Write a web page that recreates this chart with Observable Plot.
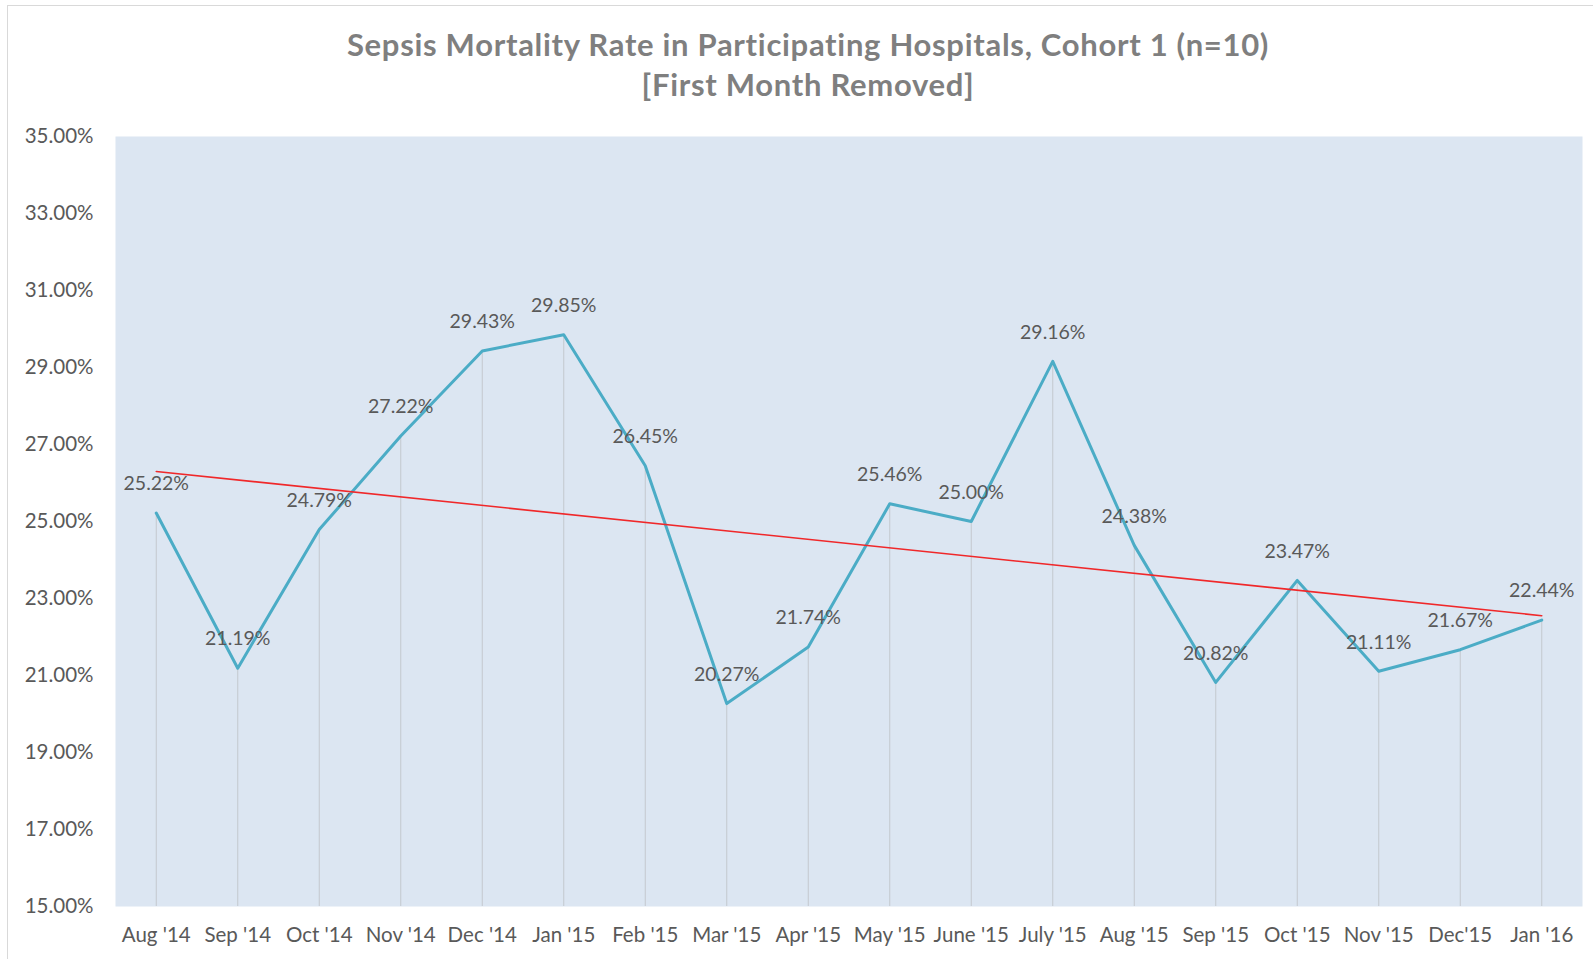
<!DOCTYPE html>
<html>
<head>
<meta charset="utf-8">
<script src="https://cdn.jsdelivr.net/npm/d3@7"></script>
<script src="https://cdn.jsdelivr.net/npm/@observablehq/plot@0.6"></script>
<style>
  html, body { margin: 0; padding: 0; background: #ffffff; }
  #wrap { position: relative; width: 1593px; height: 959px; overflow: hidden; }
  #frame { position: absolute; left: 7px; top: 5px; width: 1600px; height: 960px; border: 1px solid #d9d9d9; box-sizing: border-box; }
  #title { position: absolute; left: 0; top: 0; width: 1593px; height: 120px; font-family: Lato, "Open Sans", sans-serif; font-weight: bold; font-size: 31px; letter-spacing: 0.7px; color: #7f7f7f; text-align: center; }
  #title div { position: absolute; left: 0; width: 1616px; }
  #chart { position: absolute; left: 0; top: 120px; }
</style>
</head>
<body>
<div id="wrap">
  <div id="frame"></div>
  <div id="title">
    <div style="top:25px">Sepsis Mortality Rate in Participating Hospitals, Cohort 1 (n=10)</div>
    <div style="top:65px">[First Month Removed]</div>
  </div>
  <div id="chart"></div>
</div>
<script>
const months = ["Aug '14","Sep '14","Oct '14","Nov '14","Dec '14","Jan '15","Feb '15","Mar '15","Apr '15","May '15","June '15","July '15","Aug '15","Sep '15","Oct '15","Nov '15","Dec'15","Jan '16"];
const rates = [25.22,21.19,24.79,27.22,29.43,29.85,26.45,20.27,21.74,25.46,25.00,29.16,24.38,20.82,23.47,21.11,21.67,22.44];
const yTicks = [15,17,19,21,23,25,27,29,31,33,35];

const data = months.map((m, i) => ({i, month: m, v: rates[i]}));

const font = "Lato, 'Open Sans', sans-serif";
const chart = Plot.plot({
  width: 1593,
  height: 839,
  marginLeft: 115,
  marginRight: 11,
  marginTop: 16,
  marginBottom: 53,
  style: {fontFamily: font, fontSize: "20px", color: "#595959", background: "transparent"},
  x: {type: "linear", domain: [-0.5, months.length - 0.5], ticks: months.map((m, i) => i), tickFormat: i => months[i], tickSize: 0, tickPadding: 21, label: null},
  y: {domain: [15, 35], ticks: yTicks, tickFormat: d => d.toFixed(2) + "%", tickSize: 0, tickPadding: 22, label: null},
  marks: [
    Plot.frame({fill: "#dce6f2", stroke: null}),
    Plot.ruleX(data, {x: "i", y1: 15, y2: "v", stroke: "#c3c8ce", strokeWidth: 1}),
    Plot.line(data, {x: "i", y: "v", stroke: "#4bacc6", strokeWidth: 3}),
    Plot.linearRegressionY(data, {x: "i", y: "v", stroke: "#f0282a", strokeWidth: 1.6, ci: 0}),
    Plot.text(data, {x: "i", y: "v", text: d => d.v.toFixed(2) + "%", dy: -29, fill: "#595959", fontSize: 19.5}),
    Plot.axisX({ticks: months.map((m, i) => i), tickFormat: i => months[i], tickSize: 0, tickPadding: 21, fill: "#595959", fontSize: 20.5}),
    Plot.axisY({ticks: yTicks, tickFormat: d => d.toFixed(2) + "%", tickSize: 0, tickPadding: 22, fill: "#595959", fontSize: 20.5})
  ]
});
document.getElementById("chart").appendChild(chart);
</script>
</body>
</html>
